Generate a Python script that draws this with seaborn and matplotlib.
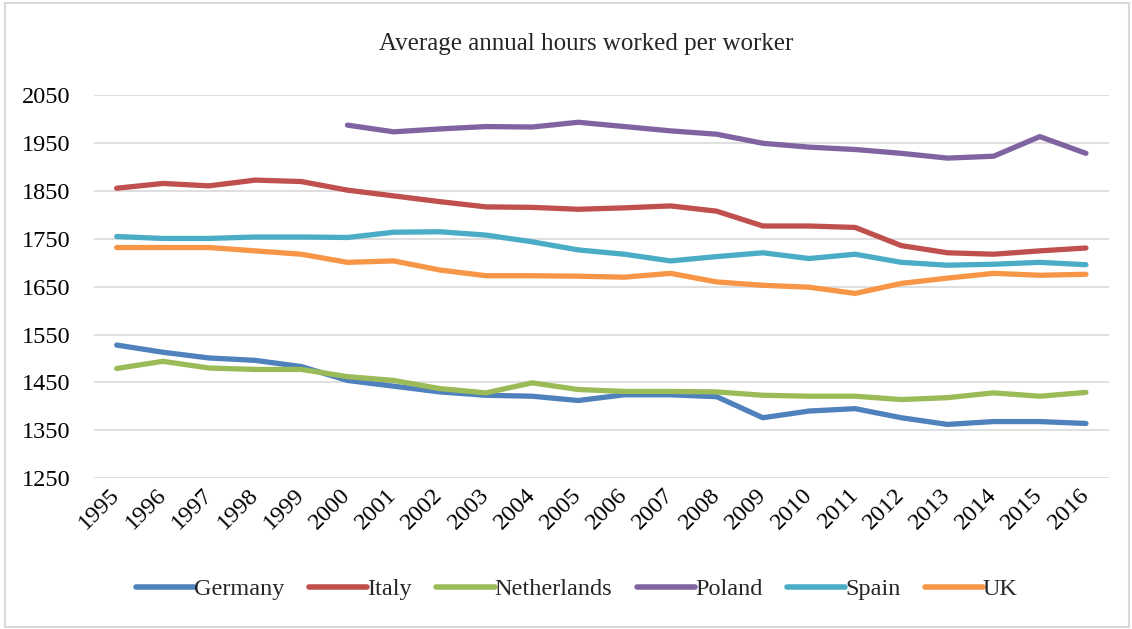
import numpy as np
import pandas as pd
import matplotlib.pyplot as plt
import seaborn as sns
from matplotlib.patches import Rectangle

# Data
years = list(range(1995, 2017))
germany = [1528, 1513, 1501, 1496, 1483, 1454, 1442, 1430, 1423, 1421, 1412,
           1424, 1424, 1420, 1376, 1390, 1395, 1376, 1362, 1368, 1368, 1364]
italy = [1856, 1866, 1861, 1873, 1870, 1852, 1840, 1828, 1817, 1816, 1812,
         1815, 1819, 1808, 1777, 1777, 1774, 1736, 1721, 1718, 1725, 1731]
netherlands = [1479, 1494, 1480, 1477, 1477, 1462, 1454, 1437, 1428, 1449, 1435,
               1431, 1431, 1430, 1423, 1421, 1421, 1414, 1418, 1428, 1421, 1429]
poland = [np.nan] * 5 + [1988, 1974, 1980, 1985, 1984, 1994,
                         1985, 1976, 1969, 1950, 1942, 1937, 1929, 1919, 1923, 1964, 1929]
spain = [1755, 1751, 1751, 1754, 1754, 1753, 1764, 1765, 1758, 1744, 1727,
         1718, 1704, 1713, 1721, 1709, 1718, 1701, 1695, 1697, 1701, 1696]
uk = [1732, 1732, 1732, 1725, 1718, 1701, 1704, 1685, 1673, 1673, 1672,
      1670, 1678, 1660, 1653, 1649, 1636, 1657, 1668, 1678, 1674, 1676]

countries = ['Germany', 'Italy', 'Netherlands', 'Poland', 'Spain', 'UK']
series = [germany, italy, netherlands, poland, spain, uk]
colors = ['#4F81BD', '#C0504D', '#9BBB59', '#8064A2', '#4BACC6', '#F79646']
yticks = list(range(1250, 2051, 100))

df = pd.concat([pd.DataFrame({'year': years, 'hours': s, 'country': c})
                for c, s in zip(countries, series)], ignore_index=True)

sns.set_theme(style='white')
plt.rcParams['font.family'] = ['Liberation Serif', 'DejaVu Serif']

fig = plt.figure(figsize=(11.32, 6.29), dpi=100)
ax = fig.add_axes([0.0827, 0.2401, 0.8970, 0.6081])

sns.lineplot(data=df, x='year', y='hours', hue='country', hue_order=countries,
             palette=dict(zip(countries, colors)), linewidth=3.8, ax=ax,
             solid_capstyle='round')

ax.set_xlim(1994.5, 2016.5)
ax.set_ylim(1250, 2050)
ax.set_yticks(yticks)
ax.set_xticks(years)
ax.set_xticklabels([str(y) for y in years], rotation=45, ha='right', va='center',
                   rotation_mode='anchor')
ax.tick_params(axis='both', length=0, labelsize=17.5, colors='black')
ax.tick_params(axis='y', pad=17)
ax.tick_params(axis='x', pad=10)
ax.grid(axis='y', color='#D9D9D9', linewidth=1.2)
ax.grid(axis='x', visible=False)
for sp in ax.spines.values():
    sp.set_visible(False)
ax.set_xlabel('')
ax.set_ylabel('')

ax.legend(loc='center', bbox_to_anchor=(577 / 1132, 1 - 589 / 629),
          bbox_transform=fig.transFigure, ncol=6, frameon=False,
          fontsize=17.5, handlelength=2.4, handletextpad=0.0, columnspacing=1.0)
for line in ax.get_legend().get_lines():
    line.set_linewidth(4)

fig.text(586 / 1132, 1 - 44 / 629, 'Average annual hours worked per worker',
         ha='center', va='center', fontsize=18)

fig.patches.append(Rectangle((0.004, 0.003), 0.993, 0.993, transform=fig.transFigure,
                             fill=False, edgecolor='#D9D9D9', linewidth=1.5))

fig.savefig('out.png', dpi=100)
